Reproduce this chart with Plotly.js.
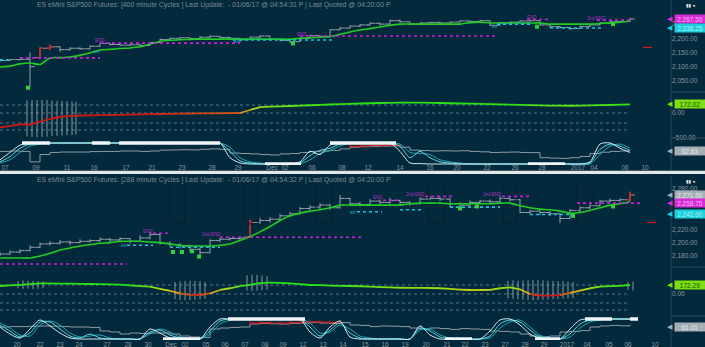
<!DOCTYPE html>
<html><head><meta charset="utf-8">
<script src="https://cdn.plot.ly/plotly-3.0.1.min.js"></script>
<style>html,body{margin:0;padding:0;background:#03293c;}#chart{width:705px;height:347px;}</style>
</head><body><div id="chart"></div>
<script>
// ---------------- DATA ----------------
const titleTop = "ES eMini S&P500 Futures: [400 minute Cycles ] Last Update:  - 01/06/17 @ 04:54:31 P | Last Quoted @ 04:20:00 P";
const titleBot = "ES eMini S&P500 Futures: [288 minute Cycles ] Last Update:  - 01/06/17 @ 04:54:32 P | Last Quoted @ 04:20:00 P";

const topTickIdx = [0.5,3.6,6.7,9.4,12.6,15.2,18.2,21.2,23.8,27.2,28.5,31.2,34.2,36.8,40,43,45.7,48.7,51.5,54.2,57.8,59.4,62.5,64.5];
const topTickText = ['07','09','11','16','17','21','23','28','29','Dec','02','06','08','12','14','16','20','22','26','28','2017','04','06','10'];
const botTickIdx = [1.7,4,6,7.9,10.7,12.8,14.8,17.1,18.5,20.6,22.5,24.5,26.5,28.3,30.3,32.3,34.3,36.5,38.5,40.5,42.6,44.7,46.5,48.5,50.5,52.5,54.4,56.7,58.7,60.9,62.8,65.5];
const botTickText = ['20','22','23','24','27','28','30','Dec','02','05','06','07','08','09','12','13','14','15','16','19','20','21','22','23','27','28','29','2017','04','05','06','10'];

const topPriceTicks = [2050,2100,2150,2200,2250];
const botPriceTicks = [2180,2200,2220,2280];

// top chart (400 minute)
const topOpen  = [2119,2122,2125,2126,2132,2165,2170,2160,2165,2163,2172,2182,2178,2176,2177,2175,2185,2196,2200,2202,2199,2204,2207,2203,2200,2195,2204,2208,2196,2192,2188,2200,2210,2207,2230,2236,2243,2247,2253,2250,2262,2258,2250,2254,2256,2254,2257,2261,2259,2262,2246,2255,2257,2261,2262,2247,2241,2238,2234,2242,2247,2254,2258,2259];
const topHigh  = [2124,2127,2129,2150,2168,2178,2172,2169,2168,2175,2185,2184,2180,2180,2179,2187,2198,2202,2204,2203,2207,2210,2208,2205,2201,2206,2210,2209,2198,2194,2202,2212,2211,2232,2240,2246,2250,2256,2255,2266,2266,2259,2256,2258,2258,2259,2263,2262,2264,2263,2257,2259,2263,2266,2263,2249,2243,2240,2244,2249,2256,2260,2261,2272];
const topLow   = [2116,2120,2122,2028,2130,2160,2152,2156,2159,2161,2170,2175,2174,2174,2172,2174,2184,2194,2198,2196,2198,2202,2200,2197,2187,2194,2202,2194,2189,2184,2187,2199,2204,2206,2228,2234,2240,2245,2244,2249,2255,2247,2249,2252,2250,2253,2256,2255,2258,2243,2245,2253,2256,2259,2245,2238,2235,2229,2233,2240,2246,2252,2255,2257];
const topClose = [2122,2125,2126,2100,2165,2170,2160,2165,2163,2172,2182,2178,2176,2177,2175,2185,2196,2200,2202,2199,2204,2207,2203,2200,2195,2204,2208,2196,2192,2188,2200,2210,2207,2230,2236,2243,2247,2253,2250,2262,2258,2250,2254,2256,2254,2257,2261,2259,2262,2246,2255,2257,2261,2262,2247,2241,2238,2234,2242,2247,2254,2258,2259,2268];
const topRedBars = [4,5];
const topMA = [2099,2102,2110,2113,2108,2131,2132,2134,2140,2148,2159,2161,2164,2166,2170,2180,2189,2193,2195,2196,2197,2197,2197,2197,2197,2197,2197,2197,2197,2197,2200,2202,2204,2206,2214,2222,2229,2234,2240,2246,2250,2250,2250,2250,2250,2250,2250,2255,2257,2254,2254,2254,2254,2254,2254,2250,2250,2250,2250,2250,2252,2254,2257,2261];
const topOsc = [-287,-262,-225,-233,-173,-120,-80,-58,-50,-46,-43,-40,-36,-32,-28,-24,-20,-17,-13,-10,-7,-6,-5,-4,0,60,118,128,134,140,147,155,162,170,176,183,190,195,200,204,207,207,206,204,200,195,190,186,181,177,173,168,163,158,152,148,146,145,148,152,156,160,166,172];
const topCycA = [20,55,90,100,100,100,100,100,100,100,100,100,100,100,100,100,100,100,100,100,100,100,100,30,5,0,0,0,0,0,10,60,45,90,100,100,100,100,100,100,60,5,2,0,0,0,0,0,0,0,0,0,0,0,0,0,0,0,0,10,95,100,75,55];
const topCycB = [10,35,75,95,100,100,100,100,100,100,100,100,100,100,100,100,100,100,100,100,100,100,100,60,15,5,0,0,0,0,5,40,65,75,95,100,100,100,100,100,85,30,60,30,10,5,0,0,0,0,0,0,0,0,0,0,0,0,0,5,70,95,85,65];
const topCycC = [5,20,55,85,95,100,100,100,100,100,100,100,100,100,100,100,100,100,100,100,100,100,100,80,30,10,5,0,0,0,0,20,50,65,85,100,100,100,100,100,95,55,50,45,20,10,5,0,0,0,0,0,0,0,0,0,0,0,0,0,45,85,95,75];
const topCycPrice = [60,62,60,10,45,55,57,57,57,59,60,60,62,62,60,62,66,67,68,67,70,72,70,52,50,48,45,43,48,50,55,60,62,65,72,80,82,84,85,86,80,66,64,62,63,62,63,60,58,55,56,57,55,54,30,28,27,30,36,50,56,60,62,63];
const topCycRed = [35,36,37,38,39,40];
const topThickStart = [2.2,9.2,11.9,33,26.5,52.8];
const topThickEnd   = [5,11,22,39.6,30.1,56.5];
const topThickLevel = [100,100,100,100,0,0];
const topMagStart = [2,10,30,52.7,59.7];
const topMagEnd   = [10,24,49.7,55,63.3];
const topMagLevel = [2131,2183,2208,2266,2264];
const topCyanStart = [0,23.3,49.7,55];
const topCyanEnd   = [1,33.3,53.3,60.3];
const topCyanLevel = [2124,2194,2250,2236];
const topEndText = ['END','END','END','2nd END'];
const topEndIdx  = [10,30.2,53.2,59.6];
const topEndPrice= [2191,2215,2272,2270];
const topBrIdx = [9.7,23.7,49.5];
const topBrPrice = [2152,2188,2243];
const topGreenIdx = [2.8,29.3,53.7,61.3];
const topGreenPrice = [2026,2182,2241,2250];
const topRedDashIdx = [64.3,65.3];
const topRedDashPrice = 2168;
const topWhIdx = [2.7,3.2,3.7,4.2,4.7,5.2,5.7,6.2,6.7,7.2,7.6];
const topWhHi  = [250,260,255,262,258,250,245,240,238,230,225];
const topWhLo  = [-470,-480,-485,-478,-470,-460,-455,-450,-445,-440,-430];
const topOscGrid = [160,0,-200,-340];

// bottom chart (288 minute)
const botOpen  = [2181,2183,2186,2188,2193,2198,2199,2201,2200,2202,2203,2205,2204,2206,2202,2207,2212,2199,2197,2195,2190,2185,2203,2205,2206,2208,2230,2233,2235,2240,2243,2251,2253,2256,2252,2266,2258,2257,2262,2260,2263,2260,2258,2265,2266,2265,2258,2256,2260,2262,2261,2266,2264,2245,2247,2245,2243,2236,2248,2252,2255,2262,2263,2264];
const botHigh  = [2186,2188,2190,2196,2200,2202,2204,2203,2205,2205,2208,2207,2208,2207,2211,2216,2213,2202,2199,2197,2192,2205,2207,2208,2209,2234,2237,2238,2243,2246,2253,2256,2259,2258,2271,2267,2261,2265,2264,2267,2264,2262,2268,2269,2268,2266,2260,2263,2264,2264,2269,2268,2265,2249,2248,2247,2244,2250,2254,2257,2264,2266,2266,2276];
const botLow   = [2180,2182,2184,2187,2192,2196,2197,2196,2199,2200,2201,2200,2202,2199,2201,2205,2197,2194,2191,2186,2179,2184,2201,2203,2204,2207,2228,2230,2234,2238,2242,2248,2250,2249,2251,2255,2254,2256,2257,2258,2256,2255,2257,2263,2262,2253,2253,2255,2258,2258,2260,2261,2244,2243,2241,2240,2229,2235,2246,2250,2254,2260,2261,2262];
const botClose = [2183,2186,2188,2193,2198,2199,2201,2200,2202,2203,2205,2204,2206,2202,2207,2212,2199,2197,2195,2190,2185,2203,2205,2206,2207,2230,2233,2235,2240,2243,2251,2253,2256,2252,2266,2258,2257,2262,2260,2263,2260,2258,2265,2266,2265,2258,2256,2260,2262,2261,2266,2264,2245,2247,2245,2243,2236,2248,2252,2255,2262,2263,2264,2271];
const botRedBars = [25,63];
const botMA = [2177,2177,2177,2177,2180,2184,2189,2192,2195,2197,2199,2200,2202,2202,2202,2201,2200,2198,2196,2195,2195,2195,2196,2198,2203,2209,2216,2224,2233,2240,2244,2247,2249,2252,2256,2256,2256,2256,2256,2256,2256,2258,2259,2259,2259,2258,2258,2258,2258,2258,2259,2259,2255,2252,2250,2249,2247,2244,2245,2248,2252,2256,2258,2261];
const botOsc = [153,165,175,190,204,203,200,198,195,191,188,185,180,165,150,140,100,60,13,-15,-19,10,77,110,150,175,210,217,212,204,190,172,168,162,157,153,148,142,133,126,120,118,116,115,110,100,85,77,77,78,110,128,90,0,-30,-32,-20,20,64,110,140,150,155,172];
const botCycA = [60,25,5,50,95,65,30,5,0,0,0,0,0,0,0,50,30,5,0,0,0,60,100,100,100,100,100,100,100,100,100,35,5,60,90,10,0,0,0,0,0,0,65,20,0,0,0,0,0,40,95,100,70,25,5,0,0,50,95,100,100,100,100,100];
const botCycB = [70,40,10,30,85,85,50,15,5,25,5,0,0,0,0,35,45,20,5,0,0,40,90,100,100,100,100,100,100,100,100,60,15,45,80,30,5,0,0,0,0,0,55,40,10,0,0,0,0,15,75,95,85,45,10,0,0,25,75,95,100,100,100,100];
const botCycC = [80,55,20,15,70,90,70,30,10,15,20,5,0,0,0,25,50,35,10,5,0,25,75,95,100,100,100,100,100,100,100,80,30,35,70,50,15,5,0,0,0,0,45,50,20,5,0,0,0,5,55,85,95,60,20,5,0,10,55,85,95,100,100,100];
const botCycPrice = [60,62,62,64,65,64,62,60,60,58,40,35,25,30,28,30,30,25,15,10,8,50,55,58,60,75,78,76,75,78,80,82,80,78,82,70,68,62,65,64,62,55,50,55,52,48,52,50,48,40,38,35,25,15,12,15,35,38,42,60,65,68,66,72];
const botCycRed = [25,26,27,28,29,30,31,32,33,34];
const botThickStart = [22.8,58.5,63,16.3,44.5,53.5];
const botThickEnd   = [30.5,61.2,63.8,20,47.2,56];
const botThickLevel = [100,100,100,0,0,0];
const botMagStart = [0,15.3,22,38.3,42.5,50.2,57.7];
const botMagEnd   = [12.7,16.8,36.2,39.8,45.2,53.2,64];
const botMagLevel = [2168,2214,2208,2263,2269,2269,2259];
const botCyanStart = [12.7,17,35.7,40,45,53];
const botCyanEnd   = [15.3,22,38.2,42.2,50,57.7];
const botCyanLevel = [2196,2193,2246,2249,2253,2242];
const botEndText = ['END','2nd END','END','2nd END','2nd END'];
const botEndIdx  = [14.8,21.1,37.8,41.5,49.2];
const botEndPrice= [2217,2212,2267,2272,2272];
const botBrIdx = [12.4,35.3];
const botBrPrice = [2195,2245];
const botGreenIdx = [17.3,18.2,19.2,19.9,46,47.7,57.3,61.3];
const botGreenPrice = [2186,2186,2187,2179,2251,2254,2240,2254];
const botRedDashIdx = [64.7,65.6];
const botRedDashPrice = 2230;
const botWhIdx = [1.8,2.3,2.8,3.3,3.8,4.3,17.5,18,18.5,19,19.5,20,20.5,24.7,25.2,25.7,26.2,26.7,50.8,51.3,51.8,52.3,52.8,53.3,53.8,54.3,54.8,55.3,55.8,56.3,56.8,57.3,62.8,63.3];
const botWhHi  = [250,260,255,250,245,240,230,240,250,255,250,245,230,360,370,365,350,340,250,260,255,260,265,270,265,260,255,250,245,240,235,230,230,240];
const botWhLo  = [110,100,105,95,100,110,-100,-110,-120,-115,-110,-100,-90,70,60,65,75,80,-80,-90,-100,-110,-115,-120,-115,-110,-105,-100,-95,-90,-85,-80,80,70];
const botOscGrid = [172,0,-172,-306];
const botBoxL = [17,24.3,31.6,42.9,50.3,57.7];
const botBoxR = [18.5,25.8,33.2,44.5,51.7,59.2];
const botBoxFloor = 2228;

// last-value labels on the right scale
const lastLabelText = ['2,267.50','2,236.25','172.02','62.63','2,271.50','2,258.75','2,242.00','172.29','61.01'];
const lastLabelVal  = [2267.5,2236.25,172.02,62.63,2271.5,2258.75,2242,172.29,61.01];
const lastLabelAxis = ['y','y','y2','y3','y4','y4','y4','y5','y6'];
const lastLabelKind = ['mag','cyan','green','gray','gray','mag','cyan','green','gray'];

// ---------------- BUILD ----------------
const Hh = 347, Ww = 705, PR = 671;
const xd = [0, PR/Ww];
const dom = (a,b)=>[1-b/Hh, 1-a/Hh];
const py = p => 1 - p/Hh;
const BG = '#03293c', GRAY = '#96a2aa', GREEN = '#22cc22', MAG = '#c421d2', CYAN = '#19c4d6',
      WHITE = '#eef6f7', RED = '#d41c1c', LBL = '#8a97a0', GRID = '#587584';
const FONT = 'Liberation Sans, Arial, sans-serif';
const traces = [];
const skip = {hoverinfo:'skip', showlegend:false};

function segXY(s,e,l){const x=[],y=[];for(let k=0;k<s.length;k++){x.push(s[k],e[k],null);y.push(l[k],l[k],null);}return {x,y};}
function vertXY(ix,lo,hi){const x=[],y=[];for(let k=0;k<ix.length;k++){x.push(ix[k],ix[k],null);y.push(lo[k],hi[k],null);}return {x,y};}
const stops = [[-25,[205,25,22]],[5,[214,105,22]],[60,[226,206,30]],[130,[120,226,22]],[170,[40,226,24]]];
function oscColor(v){
  if(v<=stops[0][0]) return 'rgb('+stops[0][1].join(',')+')';
  for(let k=1;k<stops.length;k++){
    if(v<=stops[k][0]){const t=(v-stops[k-1][0])/(stops[k][0]-stops[k-1][0]);
      const c=stops[k-1][1].map((a,j)=>Math.round(a+(stops[k][1][j]-a)*t));return 'rgb('+c.join(',')+')';}
  }
  return 'rgb('+stops[stops.length-1][1].join(',')+')';
}

function buildChart(d, xa, yp, yo, yc){
  const X = d.close.map((_,i)=>i);
  const n = X.length;
  if(d.boxL){
    const bx=[],by=[];
    for(let k=0;k<d.boxL.length;k++){bx.push(d.boxL[k],d.boxL[k],d.boxR[k],d.boxR[k],null);by.push(2400,d.boxFloor,d.boxFloor,2400,null);}
    traces.push({type:'scatter',mode:'lines',x:bx,y:by,xaxis:xa,yaxis:yp,line:{color:'#0d1e2a',width:1},...skip});
  }
  const g = segXY(d.oscGrid.map(()=>0), d.oscGrid.map(()=>n-1), d.oscGrid);
  traces.push({type:'scatter',mode:'lines',x:g.x,y:g.y,xaxis:xa,yaxis:yo,line:{color:GRID,width:1,dash:'dot'},...skip});
  const w = vertXY(d.whIdx,d.whLo,d.whHi);
  traces.push({type:'scatter',mode:'lines',x:w.x,y:w.y,xaxis:xa,yaxis:yo,line:{color:'#a7b2b8',width:0.8},...skip});
  traces.push({type:'ohlc',x:X,open:d.open,high:d.high,low:d.low,close:d.close,xaxis:xa,yaxis:yp,
    increasing:{line:{color:GRAY,width:1}},decreasing:{line:{color:GRAY,width:1}},tickwidth:0.48,...skip});
  traces.push({type:'ohlc',x:d.red,open:d.red.map(i=>d.open[i]),high:d.red.map(i=>d.high[i]),low:d.red.map(i=>d.low[i]),close:d.red.map(i=>d.close[i]),
    xaxis:xa,yaxis:yp,increasing:{line:{color:RED,width:1.3}},decreasing:{line:{color:RED,width:1.3}},tickwidth:0.3,...skip});
  traces.push({type:'scatter',mode:'lines',x:X,y:d.ma,xaxis:xa,yaxis:yp,line:{color:GREEN,width:1.6,shape:'spline',smoothing:0.6},...skip});
  const m = segXY(d.magS,d.magE,d.magL);
  traces.push({type:'scatter',mode:'lines',x:m.x,y:m.y,xaxis:xa,yaxis:yp,line:{color:MAG,width:1.6,dash:'dot'},...skip});
  const c = segXY(d.cyS,d.cyE,d.cyL);
  traces.push({type:'scatter',mode:'lines',x:c.x,y:c.y,xaxis:xa,yaxis:yp,line:{color:CYAN,width:1.6,dash:'dot'},...skip});
  traces.push({type:'scatter',mode:'markers',x:d.gIdx,y:d.gPrice,xaxis:xa,yaxis:yp,marker:{color:'#2fd23a',size:4,symbol:'square'},...skip});
  traces.push({type:'scatter',mode:'lines',x:d.rdIdx,y:d.rdIdx.map(()=>d.rdPrice),xaxis:xa,yaxis:yp,line:{color:RED,width:1.2,dash:'dash'},...skip});
  for(let i=0;i<n-1;i++){
    traces.push({type:'scatter',mode:'lines',x:[i,i+1],y:[d.osc[i],d.osc[i+1]],xaxis:xa,yaxis:yo,
      line:{color:oscColor((d.osc[i]+d.osc[i+1])/2),width:1.8},...skip});
  }
  traces.push({type:'scatter',mode:'lines',x:X,y:d.cycPrice,xaxis:xa,yaxis:yc,line:{color:'#8d9aa2',width:1,shape:'hv'},...skip});
  traces.push({type:'scatter',mode:'lines+markers',x:d.cycRed,y:d.cycRed.map(i=>d.cycPrice[i]+4),xaxis:xa,yaxis:yc,
    line:{color:RED,width:1.2,shape:'hv'},marker:{color:RED,size:3,symbol:'line-ns-open',line:{color:RED,width:1}},...skip});
  traces.push({type:'scatter',mode:'lines',x:X,y:d.cycC,xaxis:xa,yaxis:yc,line:{color:'#1fa7b6',width:1,shape:'spline',smoothing:0.8},...skip});
  traces.push({type:'scatter',mode:'lines',x:X,y:d.cycB,xaxis:xa,yaxis:yc,line:{color:'#5fd6df',width:1,shape:'spline',smoothing:0.8},...skip});
  traces.push({type:'scatter',mode:'lines',x:X,y:d.cycA,xaxis:xa,yaxis:yc,line:{color:'#cfeef1',width:1,shape:'spline',smoothing:0.8},...skip});
  const t = segXY(d.thS,d.thE,d.thL);
  traces.push({type:'scatter',mode:'lines',x:t.x,y:t.y,xaxis:xa,yaxis:yc,line:{color:WHITE,width:3.5},...skip});
}

buildChart({open:topOpen,high:topHigh,low:topLow,close:topClose,red:topRedBars,ma:topMA,osc:topOsc,
  cycA:topCycA,cycB:topCycB,cycC:topCycC,cycPrice:topCycPrice,cycRed:topCycRed,
  thS:topThickStart,thE:topThickEnd,thL:topThickLevel,magS:topMagStart,magE:topMagEnd,magL:topMagLevel,
  cyS:topCyanStart,cyE:topCyanEnd,cyL:topCyanLevel,gIdx:topGreenIdx,gPrice:topGreenPrice,
  rdIdx:topRedDashIdx,rdPrice:topRedDashPrice,whIdx:topWhIdx,whHi:topWhHi,whLo:topWhLo,oscGrid:topOscGrid},'x','y','y2','y3');
buildChart({open:botOpen,high:botHigh,low:botLow,close:botClose,red:botRedBars,ma:botMA,osc:botOsc,
  cycA:botCycA,cycB:botCycB,cycC:botCycC,cycPrice:botCycPrice,cycRed:botCycRed,
  thS:botThickStart,thE:botThickEnd,thL:botThickLevel,magS:botMagStart,magE:botMagEnd,magL:botMagLevel,
  cyS:botCyanStart,cyE:botCyanEnd,cyL:botCyanLevel,gIdx:botGreenIdx,gPrice:botGreenPrice,
  rdIdx:botRedDashIdx,rdPrice:botRedDashPrice,whIdx:botWhIdx,whHi:botWhHi,whLo:botWhLo,oscGrid:botOscGrid,
  boxL:botBoxL,boxR:botBoxR,boxFloor:botBoxFloor},'x2','y4','y5','y6');

const axBase = {showgrid:false,zeroline:false,showline:false,ticks:'',fixedrange:true,tickfont:{family:FONT,size:6.5,color:LBL}};
const yR = (dm,rg,anchor,extra)=>Object.assign({},axBase,{domain:dm,range:rg,anchor:anchor,side:'right'},extra||{});
const annotations = [];
annotations.push({xref:'paper',yref:'paper',x:35/Ww,y:py(5),xanchor:'left',yanchor:'middle',text:titleTop,showarrow:false,font:{family:FONT,size:6.9,color:'#7b8992'}});
annotations.push({xref:'paper',yref:'paper',x:35/Ww,y:py(180),xanchor:'left',yanchor:'middle',text:titleBot,showarrow:false,font:{family:FONT,size:6.9,color:'#7b8992'}});
annotations.push({xref:'paper',yref:'paper',x:690/Ww,y:py(6),xanchor:'center',yanchor:'middle',text:'▮▮ ◂',showarrow:false,font:{family:'DejaVu Sans',size:4.5,color:'#e8eef0'}});
annotations.push({xref:'paper',yref:'paper',x:690/Ww,y:py(181),xanchor:'center',yanchor:'middle',text:'▮▮ ◂',showarrow:false,font:{family:'DejaVu Sans',size:4.5,color:'#e8eef0'}});
topEndText.forEach((s,k)=>annotations.push({xref:'x',yref:'y',x:topEndIdx[k],y:topEndPrice[k],text:s,showarrow:false,font:{family:FONT,size:4.5,color:'#b52bc4'}}));
botEndText.forEach((s,k)=>annotations.push({xref:'x2',yref:'y4',x:botEndIdx[k],y:botEndPrice[k],text:s,showarrow:false,font:{family:FONT,size:4.5,color:'#b52bc4'}}));
topBrIdx.forEach((v,k)=>annotations.push({xref:'x',yref:'y',x:v,y:topBrPrice[k],text:'BR',showarrow:false,font:{family:FONT,size:4,color:'#17b8c8'}}));
botBrIdx.forEach((v,k)=>annotations.push({xref:'x2',yref:'y4',x:v,y:botBrPrice[k],text:'BR',showarrow:false,font:{family:FONT,size:4,color:'#17b8c8'}}));
const kindStyle = {mag:['#d92cd9','#f6b4f6'],cyan:['#1ccfdc','#b2f2f6'],green:['#7ade12','#234d06'],gray:['#a4aeb4','#e4eaec']};
lastLabelText.forEach((s,k)=>{
  const st = kindStyle[lastLabelKind[k]];
  annotations.push({xref:'paper',yref:lastLabelAxis[k],x:674/Ww,y:lastLabelVal[k],xanchor:'left',yanchor:'middle',text:s,showarrow:false,
    bgcolor:st[0],width:29,height:7,align:'center',borderpad:0.5,font:{family:FONT,size:6.5,color:st[1]}});
  annotations.push({xref:'paper',yref:lastLabelAxis[k],x:675/Ww,y:lastLabelVal[k],xanchor:'right',yanchor:'middle',text:'◀',showarrow:false,
    font:{family:'DejaVu Sans',size:7,color:st[0]}});
});

const shapes = [
  {type:'line',xref:'paper',yref:'paper',x0:PR/Ww,x1:PR/Ww,y0:py(0),y1:py(170),line:{color:'#2b4657',width:1}},
  {type:'line',xref:'paper',yref:'paper',x0:PR/Ww,x1:PR/Ww,y0:py(176),y1:py(347),line:{color:'#2b4657',width:1}},
  {type:'line',xref:'paper',yref:'paper',x0:PR/Ww,x1:1,y0:py(92),y1:py(92),line:{color:'#2f4b5c',width:1}},
  {type:'line',xref:'paper',yref:'paper',x0:PR/Ww,x1:1,y0:py(138),y1:py(138),line:{color:'#2f4b5c',width:1}},
  {type:'line',xref:'paper',yref:'paper',x0:PR/Ww,x1:1,y0:py(267),y1:py(267),line:{color:'#2f4b5c',width:1}},
  {type:'line',xref:'paper',yref:'paper',x0:PR/Ww,x1:1,y0:py(316),y1:py(316),line:{color:'#2f4b5c',width:1}},
  {type:'rect',xref:'paper',yref:'paper',x0:0,x1:1,y0:py(174),y1:py(170.8),fillcolor:'#e3e7e9',line:{width:0}}
];

const layout = {
  width:705,height:347,margin:{l:0,r:0,t:0,b:0},paper_bgcolor:BG,plot_bgcolor:BG,showlegend:false,
  font:{family:FONT,size:6.5,color:LBL},
  xaxis:Object.assign({},axBase,{domain:xd,range:[0,67.1],anchor:'y3',tickvals:topTickIdx,ticktext:topTickText,rangeslider:{visible:false},ticklabelstandoff:-3}),
  xaxis2:Object.assign({},axBase,{domain:xd,range:[0,67.1],anchor:'y6',tickvals:botTickIdx,ticktext:botTickText,rangeslider:{visible:false},ticklabelstandoff:-1}),
  yaxis: yR(dom(10,92),[2011,2299.6],'x',{tickvals:topPriceTicks,tickformat:',.2f'}),
  yaxis2:yR(dom(92,138),[-500,420],'x',{tickvals:[0,-500],tickformat:',.2f'}),
  yaxis3:yR(dom(138,165),[-4.8,123.8],'x',{showticklabels:false}),
  yaxis4:yR(dom(184,267),[2163.6,2287.5],'x2',{tickvals:botPriceTicks,tickformat:',.2f'}),
  yaxis5:yR(dom(267,316),[-421,516.8],'x2',{tickvals:[0],tickformat:',.2f'}),
  yaxis6:yR(dom(316,340),[-5,115],'x2',{showticklabels:false}),
  annotations:annotations,shapes:shapes
};
Plotly.newPlot('chart',traces,layout,{staticPlot:true,displayModeBar:false});
</script>
</body></html>
